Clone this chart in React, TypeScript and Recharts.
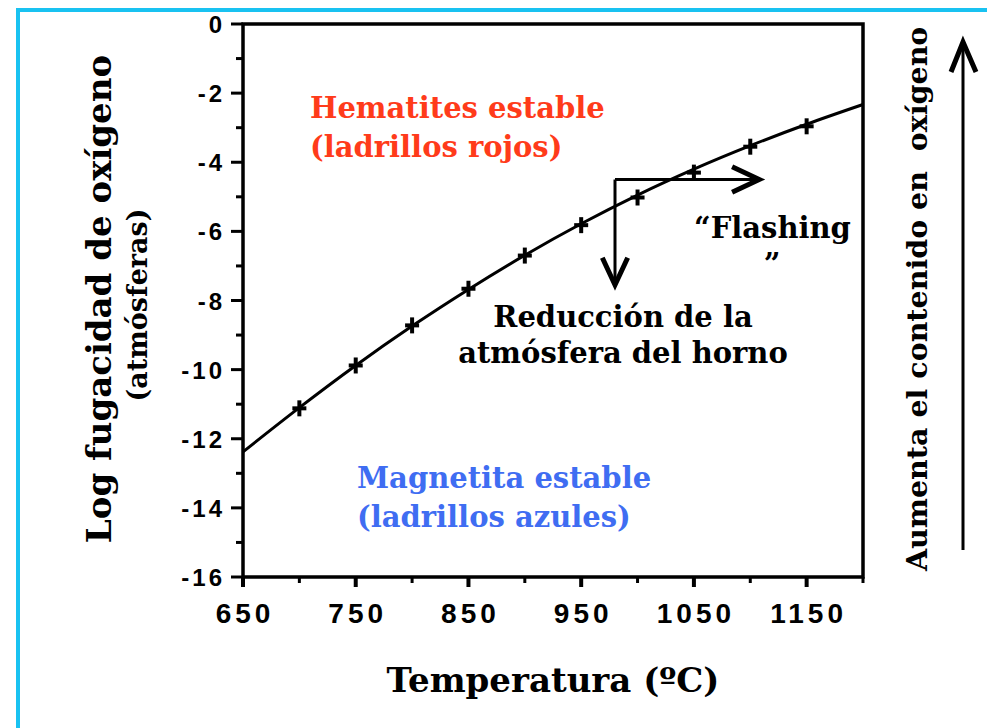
import React from 'react'
import { ComposedChart, Line, XAxis, YAxis, ReferenceArea, ReferenceLine } from 'recharts'

// temperature (ºC) and log fO2 (atm) along the hematite / magnetite boundary
const temps = [650, 700, 750, 800, 850, 900, 950, 1000, 1050, 1100, 1150, 1200]
const curveLogFO2 = [-12.38, -11.1, -9.88, -8.74, -7.68, -6.69, -5.78, -4.95, -4.2, -3.52, -2.9, -2.33]
const measuredLogFO2 = [null, -11.12, -9.88, -8.72, -7.66, -6.7, -5.82, -5.02, -4.3, -3.55, -2.96, null]

const xTicks = [650, 700, 750, 800, 850, 900, 950, 1000, 1050, 1100, 1150, 1200]
const xTickLabels = [650, 750, 850, 950, 1050, 1150]
const yTicks = [0, -1, -2, -3, -4, -5, -6, -7, -8, -9, -10, -11, -12, -13, -14, -15, -16]
const yTickLabels = [0, -2, -4, -6, -8, -10, -12, -14, -16]

// "flashing" / reduction arrows (corner and tips, in data units)
const arrowCorner = { x: 980, y: -4.5 }
const flashTip = { x: 1108, y: -4.5 }
const reduceTip = { x: 980, y: -7.55 }

const W = 987
const H = 728
const serif = "'DejaVu Serif', serif"
const sans = "'Liberation Sans', Arial, sans-serif"
const CYAN = '#19c2f1'

const data = temps.map((t, i) => ({ t, curve: curveLogFO2[i], measured: measuredLogFO2[i] }))

const XTick = (props: any) => {
  const { x, y, payload } = props
  const major = xTickLabels.includes(payload.value)
  return (
    <g>
      <line x1={x} x2={x} y1={y} y2={y + (major ? 10 : 6)} stroke="#000" strokeWidth={major ? 4 : 3} />
      {major && (
        <text x={x + 2} y={y + 46} textAnchor="middle" fontFamily={sans} fontWeight="bold"
          fontSize={28} letterSpacing={4} fill="#000">
          {payload.value}
        </text>
      )}
    </g>
  )
}

const YTick = (props: any) => {
  const { x, y, payload } = props
  const major = yTickLabels.includes(payload.value)
  return (
    <g>
      <line x1={x} x2={x - (major ? 12 : 7)} y1={y} y2={y} stroke="#000" strokeWidth={3} />
      {major && (
        <text x={x - 18} y={y + 9} textAnchor="end" fontFamily={sans} fontWeight="bold"
          fontSize={24} letterSpacing={3} fill="#000">
          {payload.value}
        </text>
      )}
    </g>
  )
}

const PlusMark = (props: any) => {
  const { cx, cy, payload } = props
  if (payload.measured == null) return null
  return (
    <g>
      <line x1={cx - 7} x2={cx + 7} y1={cy} y2={cy} stroke="#000" strokeWidth={4} />
      <line x1={cx} x2={cx} y1={cy - 8} y2={cy + 8} stroke="#000" strokeWidth={4} />
    </g>
  )
}

// line with an open arrow head at (x2, y2)
const ArrowLine = (props: any) => {
  const { x1, y1, x2, y2 } = props
  const ang = Math.atan2(y2 - y1, x2 - x1)
  const len = 30
  const spread = (25 * Math.PI) / 180
  const ax = x2 - len * Math.cos(ang - spread)
  const ay = y2 - len * Math.sin(ang - spread)
  const bx = x2 - len * Math.cos(ang + spread)
  const by = y2 - len * Math.sin(ang + spread)
  return (
    <g>
      <line x1={x1} y1={y1} x2={x2} y2={y2} stroke="#000" strokeWidth={3} />
      <polyline points={`${ax},${ay} ${x2},${y2} ${bx},${by}`} fill="none" stroke="#000" strokeWidth={5} />
    </g>
  )
}

export default function App() {
  return (
    <div style={{ position: 'absolute', left: 0, top: 0, width: W, height: H, background: '#fff', overflow: 'hidden' }}>
      <div style={{ position: 'absolute', left: 16, top: 8, width: W - 16, height: 4, background: CYAN }} />
      <div style={{ position: 'absolute', left: 16, top: 8, width: 4, height: H - 8, background: CYAN }} />

      <div style={{ position: 'absolute', left: 0, top: 0 }}>
        <ComposedChart width={W} height={H} data={data} margin={{ top: 24, right: 124, bottom: 0, left: 0 }}>
          <XAxis dataKey="t" type="number" domain={[650, 1200]} ticks={xTicks} interval={0}
            axisLine={false} tickLine={false} tickSize={0} tickMargin={0} height={151} tick={<XTick />} />
          <YAxis type="number" domain={[-16, 0]} ticks={yTicks} interval={0}
            axisLine={false} tickLine={false} tickSize={0} tickMargin={0} width={243} tick={<YTick />} />
          <ReferenceArea x1={650} x2={1200} y1={-16} y2={0} fill="none" stroke="#000" strokeWidth={3.5} />
          <Line dataKey="curve" type="monotone" stroke="#000" strokeWidth={3} dot={false} isAnimationActive={false} />
          <Line dataKey="measured" stroke="none" dot={<PlusMark />} activeDot={false} isAnimationActive={false} />
          <ReferenceLine segment={[arrowCorner, flashTip]} shape={<ArrowLine />} />
          <ReferenceLine segment={[arrowCorner, reduceTip]} shape={<ArrowLine />} />
        </ComposedChart>
      </div>

      <svg width={W} height={H} style={{ position: 'absolute', left: 0, top: 0, pointerEvents: 'none' }}>
        <g fontFamily={serif} fontWeight="bold">
          <text x={310} y={118} fontSize={29} fill="#ff3b1a">Hematites estable</text>
          <text x={310} y={157} fontSize={29} fill="#ff3b1a">(ladrillos rojos)</text>
          <text x={357} y={488} fontSize={29} fill="#3f6df2">Magnetita estable</text>
          <text x={357} y={527} fontSize={29} fill="#3f6df2">(ladrillos azules)</text>
          <text x={694} y={238} fontSize={29} fill="#000">“Flashing</text>
          <text x={772} y={274} fontSize={29} fill="#000" textAnchor="middle">”</text>
          <text x={623} y={327} fontSize={29} fill="#000" textAnchor="middle">Reducción de la</text>
          <text x={623} y={363} fontSize={29} fill="#000" textAnchor="middle">atmósfera del horno</text>
          <text transform="translate(111,299) rotate(-90)" fontSize={34} textAnchor="middle" fill="#000">
            Log fugacidad de oxígeno
          </text>
          <text transform="translate(147,305) rotate(-90)" fontSize={27} textAnchor="middle" fill="#000">
            (atmósferas)
          </text>
          <text x={553} y={692} fontSize={34} textAnchor="middle" fill="#000">Temperatura (ºC)</text>
          <text transform="translate(927,571) rotate(-90)" fontSize={28.5} fill="#000" style={{ whiteSpace: 'pre' }}>
            {'Aumenta el contenido en  oxígeno'}
          </text>
        </g>
        <line x1={963} y1={550} x2={963} y2={44} stroke="#000" strokeWidth={3} />
        <polyline points="951,72 963,42 976,72" fill="none" stroke="#000" strokeWidth={5} />
      </svg>
    </div>
  )
}
